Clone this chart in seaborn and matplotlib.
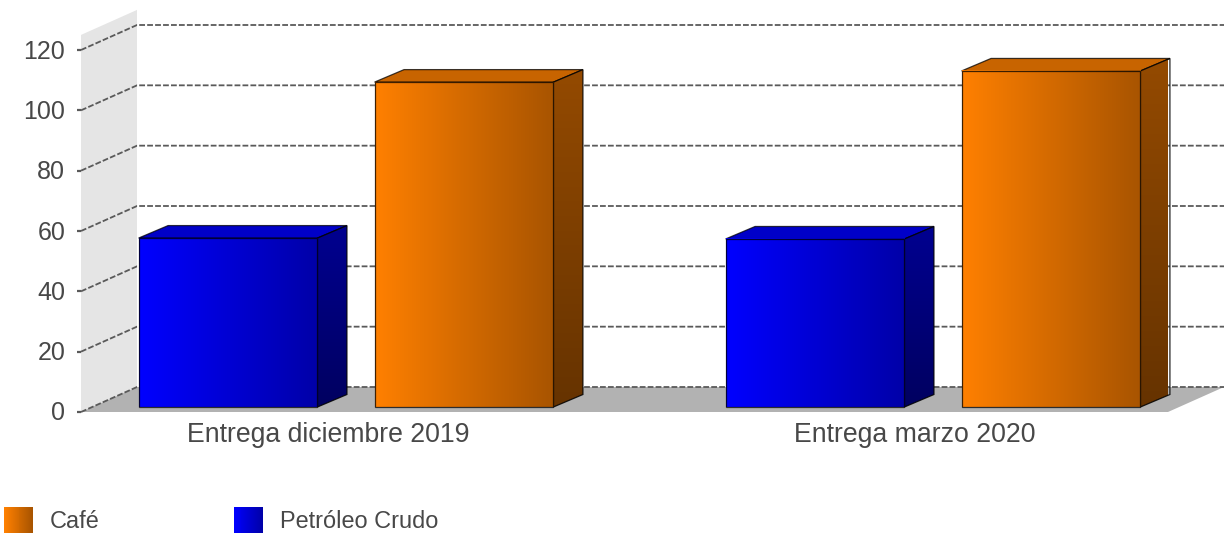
import numpy as np
import pandas as pd
import matplotlib
matplotlib.use("Agg")
import matplotlib.pyplot as plt
from matplotlib.colors import LinearSegmentedColormap
from matplotlib.legend_handler import HandlerBase
from matplotlib.patches import Patch, Polygon, Rectangle
from matplotlib.transforms import Affine2D, ScaledTranslation, blended_transform_factory
import seaborn as sns

categories = ["Entrega diciembre 2019", "Entrega marzo 2020"]
petroleo = [56.0, 55.7]
cafe = [107.7, 111.4]
series_names = ["Petróleo Crudo", "Café"]
y_ticks = [0, 20, 40, 60, 80, 100, 120]

W, H = 1225, 533
TEXT = "#484848"
GRID = "#5a5a5a"
STYLE = {
    "Café": dict(front=("#FF8000", "#A85400"), top="#C86400", side=("#944A00", "#663300")),
    "Petróleo Crudo": dict(front=("#0000FF", "#0000A8"), top="#0000C8", side=("#000090", "#000060")),
}

sns.set_theme(style="white")
plt.rcParams["font.family"] = ["Liberation Sans", "DejaVu Sans"]
fig = plt.figure(figsize=(W / 100, H / 100), dpi=100, facecolor="white")

# front plane of the chart box
L, R, B, T = 81, 1168, 412, 50
ax = fig.add_axes([L / W, 1 - B / H, (R - L) / W, (B - T) / H])
ax.set_facecolor("none")

df = pd.DataFrame({
    "cat": categories * 2,
    "serie": [series_names[0]] * 2 + [series_names[1]] * 2,
    "val": petroleo + cafe,
})
sns.barplot(data=df, x="cat", y="val", hue="serie", hue_order=series_names,
            palette={k: v["front"][0] for k, v in STYLE.items()},
            width=0.804, gap=0.242, dodge=True, legend=False, ax=ax, zorder=5)

PX_X = 587.0
xlim = ((L - 346) / PX_X, (R - 346) / PX_X)
ylim = (0, 120)
ppu = (B - T) / 120

# wall, floor and grid, in axes-fraction x / data y
bt = blended_transform_factory(ax.transAxes, ax.transData)
dx, dy = 56 / (R - L), 25 / ppu
wall_top = 125
ax.add_patch(Polygon([(0, 0), (dx, dy), (dx, wall_top + dy), (0, wall_top)], closed=True,
                     transform=bt, fc="#E5E5E5", ec="none", zorder=0, clip_on=False))
ax.add_patch(Polygon([(0, 0), (1, 0), (1 + dx, dy), (dx, dy)], closed=True,
                     transform=bt, fc="#B2B2B2", ec="none", zorder=0.5, clip_on=False))
dash = dict(color=GRID, lw=1.3, dashes=(3.2, 1.2), clip_on=False, transform=bt, zorder=1)
for v in y_ticks:
    ax.plot([0, dx, 1 + dx], [v, v + dy, v + dy], **dash)

# bars with faux depth: the bars sit 5 px above the front edge of the floor
shift = ax.transData + Affine2D().translate(0, 5)
bdx, bdy = 29.5 / PX_X, 12.5 / ppu
bars = list(ax.patches)
names = [series_names[0]] * 2 + [series_names[1]] * 2
for p, name in zip(bars, names):
    st = STYLE[name]
    x0, w, h = p.get_x(), p.get_width(), p.get_height()
    x1 = x0 + w
    p.set_transform(shift)
    p.set_clip_on(False)
    p.set_facecolor("none")
    p.set_edgecolor((0, 0, 0, 0.75))
    p.set_linewidth(0.9)
    p.set_zorder(6)
    cm = LinearSegmentedColormap.from_list("f", st["front"])
    im = ax.imshow(np.linspace(0.0, 1, 256)[None, :], cmap=cm, vmin=0, vmax=1, aspect="auto",
                   extent=(x0, x1, 0, h), transform=shift, zorder=4, clip_on=False)
    ax.add_patch(Polygon([(x0, h), (x1, h), (x1 + bdx, h + bdy), (x0 + bdx, h + bdy)], closed=True,
                         transform=shift, fc=st["top"], ec=(0, 0, 0, 0.75), lw=0.9, zorder=3, clip_on=False))
    cs = LinearSegmentedColormap.from_list("s", st["side"])
    side = Polygon([(x1, 0), (x1 + bdx, bdy), (x1 + bdx, h + bdy), (x1, h)], closed=True,
                   transform=shift, fc="none", ec=(0, 0, 0, 0.85), lw=0.9, zorder=3.5, clip_on=False)
    ax.add_patch(side)
    ims = ax.imshow(np.linspace(0, 1, 256)[:, None], cmap=cs, vmin=0, vmax=1, aspect="auto",
                    extent=(x1, x1 + bdx, 0, h + bdy), origin="upper", transform=shift, zorder=3)
    ims.set_clip_path(side)

ax.set_xlim(*xlim)
ax.set_ylim(*ylim)
ax.set_xlabel("")
ax.set_ylabel("")
sns.despine(ax=ax, left=True, bottom=True)
ax.set_yticks(y_ticks)
ax.set_yticklabels([str(v) for v in y_ticks])
ax.tick_params(axis="y", left=True, length=2.6, width=1.6, color=GRID, pad=8.8, labelsize=18.0, labelcolor=TEXT)
ax.tick_params(axis="x", bottom=False, length=0, pad=7.5, labelsize=19.2, labelcolor=TEXT)
lab_shift = ScaledTranslation(-18 / 100, 0, fig.dpi_scale_trans)
for lab in ax.get_xticklabels():
    lab.set_transform(lab.get_transform() + lab_shift)
ylab_shift = ScaledTranslation(0, 1 / 100, fig.dpi_scale_trans)
for lab in ax.get_yticklabels():
    lab.set_transform(lab.get_transform() + ylab_shift)


class GradientHandler(HandlerBase):
    def __init__(self, colors):
        super().__init__()
        self.colors = colors

    def create_artists(self, legend, orig, xd, yd, width, height, fontsize, trans):
        cm = LinearSegmentedColormap.from_list("l", self.colors)
        n = 30
        return [Rectangle((-xd + width * i / n, -yd), width / n + 0.2, height,
                          fc=cm(i / (n - 1)), ec="none", lw=0, transform=trans) for i in range(n)]


leg_order = ["Café", "Petróleo Crudo"]
handles = [Patch(label=n) for n in leg_order]
hmap = {h: GradientHandler(STYLE[h.get_label()]["front"]) for h in handles}
FS = 16.9
fig.legend(handles=handles, handler_map=hmap, ncol=2, frameon=False,
           loc="lower left", bbox_to_anchor=(4 / W, 0), bbox_transform=fig.transFigure,
           fontsize=FS, labelcolor=TEXT, borderpad=0, borderaxespad=0,
           handlelength=29 * 0.72 / FS, handleheight=1.327,
           handletextpad=17 * 0.72 / FS, columnspacing=134 * 0.72 / FS)

fig.savefig("out.png", dpi=100, facecolor="white")
